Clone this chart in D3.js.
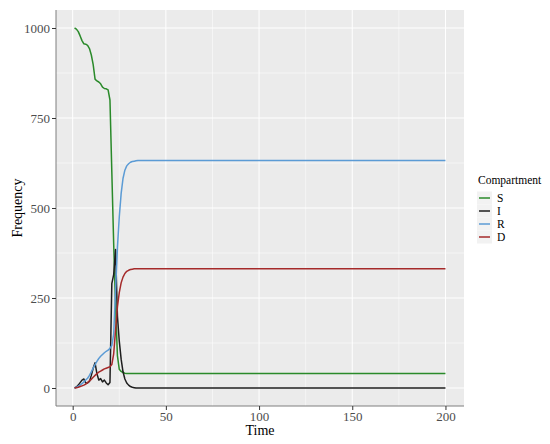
<!DOCTYPE html>
<html>
<head>
<meta charset="utf-8">
<script src="https://cdn.jsdelivr.net/npm/d3@7"></script>
<style>
  body { margin: 0; background: #fff; }
  svg { display: block; font-family: "Liberation Serif", "Times New Roman", serif; }
</style>
</head>
<body>
<div id="io"></div>
<script>
// time steps 1..200 (flat after t=35)
const times = d3.range(1, 201);
const S_early = [1000, 997, 990, 978, 965, 956, 955, 952, 943, 925, 898, 858, 853, 850, 845, 836, 832, 831, 828, 800,
  600, 400, 230, 90, 52, 46, 43, 41, 40, 40, 40, 40, 40, 40, 40];
const I_early = [0, 3, 8, 15, 22, 25, 14, 14, 18, 35, 55, 70, 40, 22, 26, 17, 22, 14, 9, 15,
  290, 315, 385, 200, 130, 80, 45, 25, 14, 8, 4, 2, 1, 0, 0];
const R_early = [0, 2, 5, 8, 12, 17, 22, 27, 35, 45, 55, 65, 74, 82, 88, 93, 98, 102, 105, 110,
  118, 150, 270, 390, 475, 540, 582, 605, 617, 623, 627, 629, 630, 631, 632];
const D_early = [0, 1, 2, 4, 6, 8, 11, 15, 20, 24, 30, 35, 40, 44, 47, 50, 53, 55, 57, 59,
  65, 95, 160, 225, 265, 292, 308, 318, 324, 327, 329, 330, 331, 331, 331];
const compartments = ['S', 'I', 'R', 'D'];
const colours = ['#2a8a2a', '#1e1e1e', '#5b9bd5', '#a52a2a'];
const xTicks = [0, 50, 100, 150, 200];
const yTicks = [0, 250, 500, 750, 1000];

function fill(early) { // hold last value out to t=200
  return times.map((t, i) => i < early.length ? early[i] : early[early.length - 1]);
}
const series = [fill(S_early), fill(I_early), fill(R_early), fill(D_early)];

const W = 550, H = 444;
const panel = {left: 56, right: 464, top: 10, bottom: 406};

const svg = d3.select('#io').append('svg').attr('width', W).attr('height', H);

const xScale = d3.scaleLinear()
  .domain([1 - 9.95, 200 + 9.95])
  .range([panel.left, panel.right]);
const yScale = d3.scaleLinear()
  .domain([-50, 1050])
  .range([panel.bottom, panel.top]);

svg.append('rect')
  .attr('x', panel.left).attr('y', panel.top)
  .attr('width', panel.right - panel.left).attr('height', panel.bottom - panel.top)
  .attr('fill', '#ebebeb');

// minor grid
const g = svg.append('g');
g.selectAll('.xminor').data([25, 75, 125, 175]).enter().append('line')
  .attr('x1', d => xScale(d)).attr('x2', d => xScale(d))
  .attr('y1', panel.top).attr('y2', panel.bottom)
  .attr('stroke', '#fff').attr('stroke-width', 0.5);
g.selectAll('.yminor').data([125, 375, 625, 875]).enter().append('line')
  .attr('y1', d => yScale(d)).attr('y2', d => yScale(d))
  .attr('x1', panel.left).attr('x2', panel.right)
  .attr('stroke', '#fff').attr('stroke-width', 0.5);
// major grid
g.selectAll('.xmajor').data(xTicks).enter().append('line')
  .attr('x1', d => xScale(d)).attr('x2', d => xScale(d))
  .attr('y1', panel.top).attr('y2', panel.bottom)
  .attr('stroke', '#fff').attr('stroke-width', 1);
g.selectAll('.ymajor').data(yTicks).enter().append('line')
  .attr('y1', d => yScale(d)).attr('y2', d => yScale(d))
  .attr('x1', panel.left).attr('x2', panel.right)
  .attr('stroke', '#fff').attr('stroke-width', 1);

// lines
const line = d3.line()
  .x((d, i) => xScale(times[i]))
  .y(d => yScale(d));
svg.append('g').selectAll('path')
  .data(series)
  .enter()
  .append('path')
  .attr('d', line)
  .attr('fill', 'none')
  .attr('stroke', (d, i) => colours[i])
  .attr('stroke-width', 1.5)
  .attr('stroke-linejoin', 'round');

// axes
const xAxis = svg.append('g')
  .attr('transform', `translate(0,${panel.bottom})`)
  .call(d3.axisBottom(xScale).tickValues(xTicks).tickFormat(d3.format('d')).tickSize(4).tickPadding(2));
const yAxis = svg.append('g')
  .attr('transform', `translate(${panel.left},0)`)
  .call(d3.axisLeft(yScale).tickValues(yTicks).tickFormat(d3.format('d')).tickSize(4).tickPadding(2));
[xAxis, yAxis].forEach(a => {
  a.attr('font-family', '"Liberation Serif", serif').attr('font-size', 13);
  a.select('.domain').attr('stroke', '#7f7f7f').attr('stroke-width', 1);
  a.selectAll('.tick line').attr('stroke', '#333');
  a.selectAll('.tick text').attr('fill', '#4d4d4d');
});
xAxis.select('.domain').attr('d', `M${panel.left},0H${panel.right}`);
yAxis.select('.domain').attr('d', `M0,${panel.bottom}V${panel.top}`);

svg.append('text')
  .attr('x', (panel.left + panel.right) / 2).attr('y', 435)
  .attr('text-anchor', 'middle').style('font-size', '14px').attr('fill', '#000')
  .text('Time');
svg.append('text')
  .attr('transform', `translate(22,${(panel.top + panel.bottom) / 2}) rotate(-90)`)
  .attr('text-anchor', 'middle').style('font-size', '14px').attr('fill', '#000')
  .text('Frequency');

// legend
const leg = svg.append('g').attr('transform', 'translate(477,0)');
leg.append('text').attr('x', 1).attr('y', 183.5)
  .style('font-size', '11.5px').text('Compartment');
const keys = leg.selectAll('.key').data(compartments).enter().append('g')
  .attr('transform', (d, i) => `translate(0,${191.5 + i * 13})`);
keys.append('rect').attr('width', 15).attr('height', 13).attr('fill', '#f2f2f2');
keys.append('line').attr('x1', 2).attr('x2', 13).attr('y1', 6.5).attr('y2', 6.5)
  .attr('stroke', (d, i) => colours[i]).attr('stroke-width', 1.5);
keys.append('text').attr('x', 20).attr('y', 10.5)
  .style('font-size', '11.5px').text(d => d);
</script>
</body>
</html>
